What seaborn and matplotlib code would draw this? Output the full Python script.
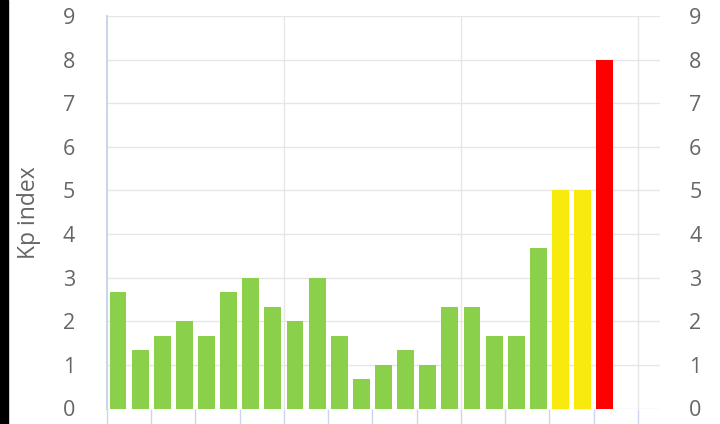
import matplotlib
matplotlib.use("Agg")
import matplotlib.pyplot as plt
import matplotlib.patches as mpatches
import seaborn as sns
import pandas as pd

# 3-hour Kp slots over 3 days (last slot has no value yet)
slots = [f"D{d} {h:02d}" for d in range(1, 4) for h in range(0, 24, 3)]
kp_values = [2.67, 1.33, 1.67, 2.0, 1.67, 2.67, 3.0, 2.33,
             2.0, 3.0, 1.67, 0.67, 1.0, 1.33, 1.0, 2.33,
             2.33, 1.67, 1.67, 3.67, 5.0, 5.0, 8.0]
levels = ["quiet" if v < 4.5 else ("moderate" if v < 7.5 else "severe") for v in kp_values]
level_colors = {"quiet": "#8bd04b", "moderate": "#f7ea0c", "severe": "#ff0000"}
y_ticks = list(range(0, 10))

df = pd.DataFrame({"slot": slots[:len(kp_values)], "kp": kp_values, "level": levels})

sns.set_theme(style="white")
plt.rcParams['font.family'] = ['Open Sans', 'DejaVu Sans']

fig = plt.figure(figsize=(7.2, 4.24), dpi=100)
ax = fig.add_axes([107/720, 1 - 408.5/424, (660 - 107)/720, (408.5 - 16)/424])

sns.barplot(data=df, x="slot", y="kp", hue="level", order=slots,
            palette=level_colors, dodge=False, width=0.76, legend=False,
            saturation=1, edgecolor="none", ax=ax)

ax.set_xlim(-0.5, len(slots) + 0.5)
ax.set_ylim(0, 9)

grid_c = "#e6e6e6"
axis_c = "#ccd6eb"
for y in y_ticks:
    ax.axhline(y, color=grid_c, lw=1, zorder=0)
for x in [7.5, 15.5, 23.5]:
    ax.axvline(x, color=grid_c, lw=1, zorder=0)

for s in ax.spines.values():
    s.set_visible(False)
ax.spines["left"].set_visible(True)
ax.spines["left"].set_color(axis_c)
ax.spines["left"].set_linewidth(1.5)

ax.set_xticks([i - 0.5 for i in range(0, len(slots) + 1, 2)])
ax.set_xticklabels([])
ax.tick_params(axis="x", bottom=True, length=12, width=1, color=axis_c, direction="out")

ax.set_yticks(y_ticks)
ax.set_yticklabels([str(t) for t in y_ticks])
ax.tick_params(axis="y", left=False, right=False, length=0, labelleft=True, labelright=False,
               labelsize=15.5, labelcolor="#666666", pad=23)

ax2 = ax.twinx()
ax2.set_ylim(0, 9)
ax2.set_yticks(y_ticks)
ax2.set_yticklabels([str(t) for t in y_ticks])
ax2.tick_params(axis="y", right=False, length=0, labelright=True,
                labelsize=15.5, labelcolor="#666666", pad=21)
for s in ax2.spines.values():
    s.set_visible(False)
ax2.grid(False)

ax.set_xlabel("")
ax.set_ylabel("Kp index", fontsize=16.5, color="#666666")
ax.yaxis.set_label_coords(-0.12, 0.5)

fig.patches.append(mpatches.Rectangle((0, 0), 8/720, 1, transform=fig.transFigure,
                                      color="black", zorder=10))

fig.savefig("out.png", dpi=100)
